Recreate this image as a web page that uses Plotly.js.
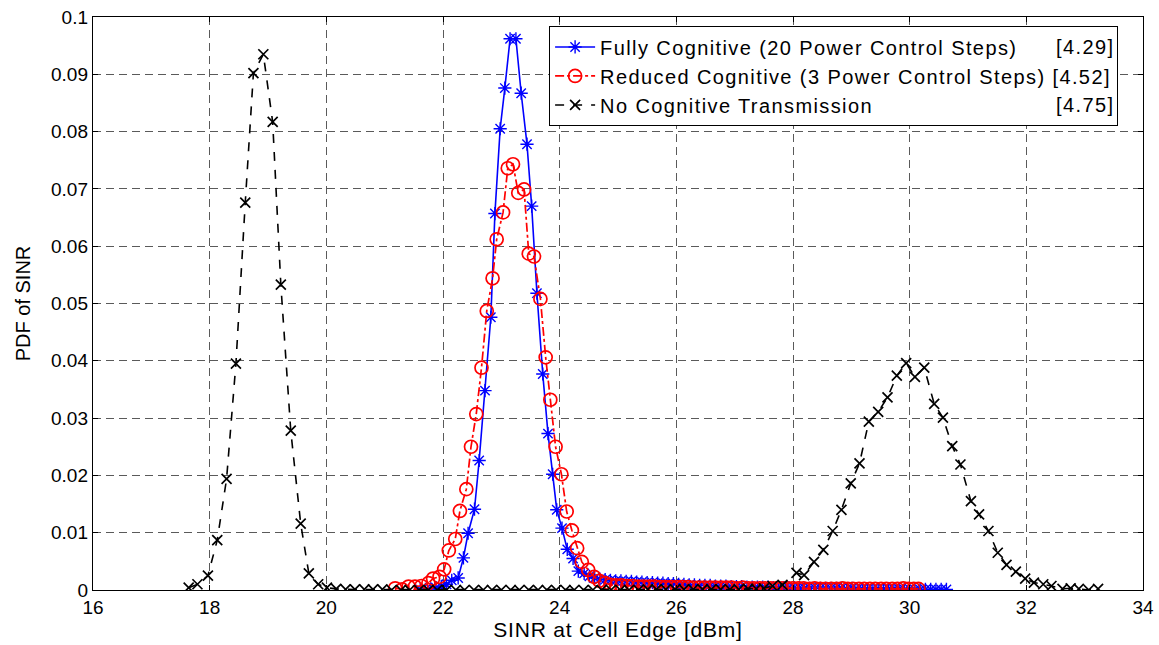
<!DOCTYPE html>
<html>
<head>
<meta charset="utf-8">
<script src="https://cdn.plot.ly/plotly-3.0.1.min.js"></script>
<style>
  html, body { margin: 0; padding: 0; background: #ffffff; }
  #chart { width: 1159px; height: 645px; }
  .legendtext { letter-spacing: 1.4px; }
  .annotation-text { letter-spacing: 1.4px; }
  .xtitle { letter-spacing: 0.8px; }
</style>
</head>
<body>
<div id="chart"></div>
<script>
// ---------------- DATA ----------------
const seriesNames = [
  "Fully Cognitive (20 Power Control Steps)",
  "Reduced Cognitive (3 Power Control Steps) [4.52]",
  "No Cognitive Transmission"
];
const sideLabels = ["[4.29]", "[4.75]"];

const xTickVals = [16, 18, 20, 22, 24, 26, 28, 30, 32, 34];
const yTickVals = [0, 0.01, 0.02, 0.03, 0.04, 0.05, 0.06, 0.07, 0.08, 0.09, 0.1];

const fullyX = [21.61,21.70,21.79,21.88,21.97,22.06,22.15,22.26,22.35,22.43,22.54,22.62,22.72,22.82,22.89,22.98,23.06,23.15,23.25,23.34,23.44,23.52,23.61,23.71,23.80,23.88,23.95,24.04,24.13,24.23,24.32,24.42,24.51,24.60,24.69,24.78,24.87,24.96,25.05,25.14,25.23,25.32,25.41,25.50,25.59,25.68,25.77,25.86,25.95,26.04,26.13,26.22,26.31,26.40,26.49,26.58,26.67,26.76,26.85,26.94,27.03,27.12,27.21,27.30,27.39,27.48,27.57,27.66,27.75,27.84,27.93,28.02,28.11,28.20,28.29,28.38,28.47,28.56,28.65,28.74,28.83,28.92,29.01,29.10,29.19,29.28,29.37,29.46,29.55,29.64,29.73,29.82,29.91,30.00,30.09,30.18,30.27,30.36,30.45,30.54,30.63];
const fullyY = [0.0001,0.0001,0.0002,0.0004,0.0006,0.0010,0.0017,0.0021,0.0056,0.0099,0.0141,0.0226,0.0348,0.0476,0.0657,0.0805,0.0876,0.0962,0.0962,0.0867,0.0778,0.0670,0.0518,0.0377,0.0273,0.0202,0.0140,0.0108,0.0071,0.0055,0.0033,0.0029,0.0024,0.0021,0.0019,0.0018,0.0017,0.0016,0.0016,0.0015,0.0015,0.0014,0.0014,0.0013,0.0013,0.0012,0.0012,0.0011,0.0011,0.0010,0.0010,0.0009,0.0009,0.0008,0.0008,0.0008,0.0007,0.0007,0.0007,0.0006,0.0006,0.0006,0.0005,0.0005,0.0005,0.0005,0.0005,0.0004,0.0004,0.0004,0.0004,0.0004,0.0004,0.0003,0.0003,0.0003,0.0003,0.0003,0.0003,0.0003,0.0003,0.0002,0.0003,0.0002,0.0002,0.0002,0.0002,0.0002,0.0002,0.0002,0.0002,0.0002,0.0001,0.0002,0.0001,0.0001,0.0001,0.0001,0.0001,0.0001,0.0001];

const reducedX = [21.18,21.30,21.41,21.52,21.63,21.75,21.83,21.94,22.02,22.10,22.21,22.29,22.40,22.48,22.57,22.66,22.75,22.85,22.92,23.03,23.11,23.20,23.29,23.39,23.47,23.56,23.67,23.76,23.84,23.93,24.03,24.12,24.21,24.30,24.38,24.49,24.59,24.68,24.78,24.87,24.97,25.06,25.16,25.25,25.35,25.44,25.54,25.63,25.73,25.82,25.91,26.01,26.10,26.20,26.29,26.39,26.48,26.58,26.67,26.77,26.86,26.95,27.05,27.14,27.24,27.33,27.43,27.52,27.62,27.71,27.81,27.90,27.99,28.09,28.18,28.28,28.37,28.47,28.56,28.66,28.75,28.85,28.94,29.03,29.13,29.22,29.32,29.41,29.51,29.60,29.70,29.79,29.89,29.98,30.07,30.15];
const reducedY = [0.0003,0.0001,0.0006,0.0006,0.0007,0.0012,0.0020,0.0023,0.0036,0.0069,0.0089,0.0138,0.0176,0.0250,0.0307,0.0388,0.0487,0.0544,0.0612,0.0659,0.0736,0.0743,0.0693,0.0699,0.0587,0.0582,0.0508,0.0406,0.0332,0.0250,0.0202,0.0137,0.0104,0.0073,0.0049,0.0035,0.0023,0.0016,0.0012,0.0009,0.0008,0.0008,0.0007,0.0007,0.0006,0.0006,0.0006,0.0006,0.0005,0.0005,0.0005,0.0005,0.0005,0.0005,0.0004,0.0004,0.0004,0.0004,0.0004,0.0004,0.0004,0.0004,0.0003,0.0004,0.0003,0.0003,0.0003,0.0003,0.0003,0.0003,0.0003,0.0003,0.0003,0.0003,0.0003,0.0002,0.0003,0.0002,0.0002,0.0002,0.0002,0.0003,0.0002,0.0002,0.0002,0.0002,0.0002,0.0002,0.0002,0.0002,0.0002,0.0002,0.0003,0.0002,0.0002,0.0002];

const noCogX = [17.64,17.79,17.97,18.13,18.29,18.45,18.61,18.75,18.92,19.08,19.22,19.39,19.56,19.70,19.86,20.01,20.17,20.33,20.49,20.65,20.80,20.96,21.12,21.28,21.43,21.59,21.75,21.90,22.06,22.22,22.37,22.53,22.69,22.84,23.00,23.16,23.31,23.47,23.63,23.78,23.94,24.10,24.25,24.41,24.57,24.72,24.88,25.04,25.19,25.35,25.51,25.66,25.82,25.98,26.13,26.29,26.45,26.60,26.76,26.92,27.07,27.23,27.37,27.50,27.65,27.82,28.06,28.19,28.36,28.52,28.68,28.83,28.99,29.14,29.30,29.46,29.62,29.78,29.94,30.09,30.25,30.42,30.57,30.73,30.87,31.05,31.19,31.35,31.51,31.66,31.82,31.98,32.13,32.29,32.43,32.62,32.76,32.90,33.07,33.23];
const noCogY = [0.0004,0.0010,0.0025,0.0087,0.0194,0.0395,0.0676,0.0902,0.0935,0.0817,0.0533,0.0278,0.0116,0.0029,0.0010,0.0004,0.0002,0.0001,0.0001,0.0001,0.0001,0.0001,0,0,0,0,0,0,0,0,0,0,0,0,0,0,0,0,0,0,0,0,0,0,0,0,0,0,0,0,0.0001,0.0001,0.0001,0.0001,0.0001,0.0001,0.0001,0.0001,0.0001,0.0001,0.0001,0.0002,0.0002,0.0003,0.0007,0.0009,0.0030,0.0026,0.0049,0.0070,0.0103,0.0140,0.0186,0.0221,0.0294,0.0311,0.0336,0.0374,0.0396,0.0372,0.0388,0.0325,0.0301,0.0251,0.0219,0.0155,0.0132,0.0103,0.0065,0.0044,0.0032,0.0020,0.0013,0.0010,0.0007,0.0002,0.0003,0.0002,0.0000,0.0002];

// ---------------- PLOT ----------------
const FONT = "Liberation Sans, Arial, Helvetica, sans-serif";

const traces = [
  {
    x: fullyX, y: fullyY, name: seriesNames[0], type: "scatter", mode: "lines+markers",
    line: { color: "#0000ff", width: 1.6 },
    marker: { symbol: "asterisk-open", size: 11, color: "#0000ff", line: { color: "#0000ff", width: 1.4 } }
  },
  {
    x: reducedX, y: reducedY, name: seriesNames[1], type: "scatter", mode: "lines+markers",
    line: { color: "#ff0000", width: 1.7, dash: "dashdot" },
    marker: { symbol: "circle-open", size: 13, color: "#ff0000", line: { color: "#ff0000", width: 1.7 } }
  },
  {
    x: noCogX, y: noCogY, name: seriesNames[2], type: "scatter", mode: "lines+markers",
    line: { color: "#000000", width: 1.6, dash: "dash" },
    marker: { symbol: "x-thin-open", size: 10, color: "#000000", line: { color: "#000000", width: 1.7 } }
  }
];

const axisCommon = {
  showline: true, linecolor: "#000000", linewidth: 1.2, mirror: "ticks",
  ticks: "inside", ticklen: 5, tickcolor: "#000000", tickwidth: 1,
  showgrid: true, gridcolor: "#5a5a5a", gridwidth: 1, griddash: "8px,5px",
  zeroline: false,
  tickfont: { family: FONT, size: 19, color: "#000000" }
};

const layout = {
  width: 1159, height: 645,
  margin: { l: 93, r: 16, t: 17, b: 55 },
  paper_bgcolor: "#ffffff", plot_bgcolor: "#ffffff",
  showlegend: true,
  xaxis: Object.assign({}, axisCommon, {
    range: [16, 34], tickvals: xTickVals, ticktext: xTickVals.map(String),
    title: { text: "SINR at Cell Edge [dBm]", font: { family: FONT, size: 21, color: "#000000" }, standoff: 5 }
  }),
  yaxis: Object.assign({}, axisCommon, {
    range: [0, 0.1], tickvals: yTickVals, ticktext: yTickVals.map(String),
    title: { text: "PDF of SINR", font: { family: FONT, size: 20, color: "#000000" }, standoff: 15 }
  }),
  legend: {
    x: 0.976, xanchor: "right", y: 0.984, yanchor: "top",
    bgcolor: "#ffffff", bordercolor: "#000000", borderwidth: 1.3,
    font: { family: FONT, size: 20, color: "#000000" },
    itemwidth: 40, tracegroupgap: 0
  },
  annotations: [
    { xref: "paper", yref: "paper", x: 0.9745, y: 0.9476, xanchor: "right", yanchor: "middle",
      text: sideLabels[0], showarrow: false, font: { family: FONT, size: 20, color: "#000000" } },
    { xref: "paper", yref: "paper", x: 0.9745, y: 0.8464, xanchor: "right", yanchor: "middle",
      text: sideLabels[1], showarrow: false, font: { family: FONT, size: 20, color: "#000000" } }
  ]
};

Plotly.newPlot("chart", traces, layout, { displayModeBar: false, staticPlot: true });
</script>
</body>
</html>
